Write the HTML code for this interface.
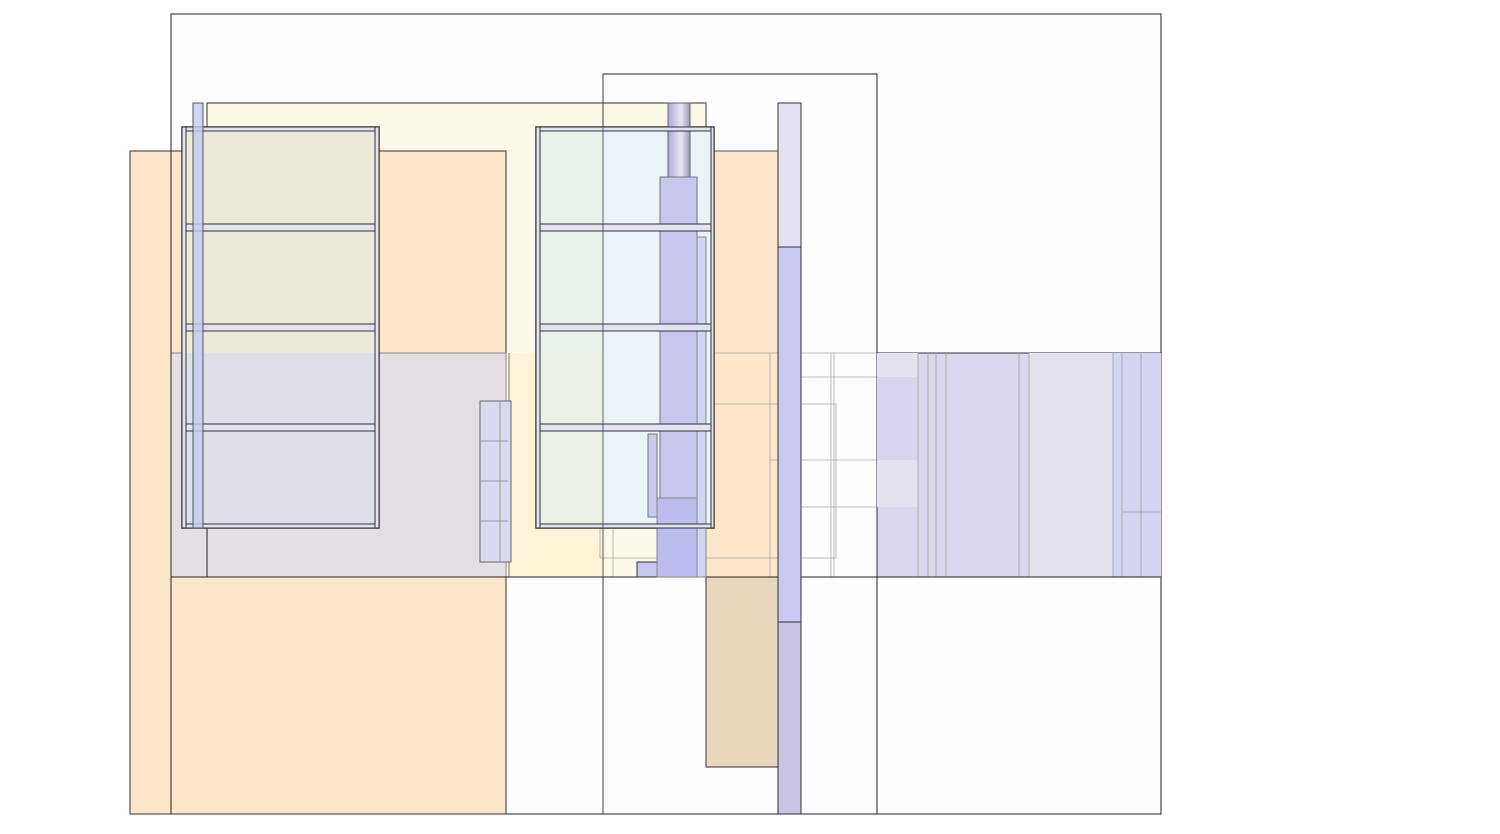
<!DOCTYPE html>
<html><head><style>body{margin:0;background:#fff}svg{display:block}</style></head><body>
<svg width="1500" height="834" viewBox="0 0 1500 834" xmlns="http://www.w3.org/2000/svg">
<defs><linearGradient id="pg" x1="0" x2="1"><stop offset="0" stop-color="#a9a9d6"/><stop offset=".6" stop-color="#e6e6f2"/><stop offset="1" stop-color="#9a9ab8"/></linearGradient></defs>
<rect width="1500" height="834" fill="#fff"/>
<rect x="171" y="14" width="990" height="800" fill="#fdfdfd" stroke="#222" stroke-width="1"/>
<!-- yellow pale -->
<rect x="207" y="103" width="499" height="474" fill="#fdf9e9" stroke="#333"/>
<rect x="603" y="74" width="274" height="740" fill="none" stroke="#222"/>
<!-- left orange -->
<rect x="130" y="151" width="376" height="663" fill="#fce6c9" stroke="#333"/>
<rect x="506" y="353" width="97" height="224" fill="#fdf3d6"/>
<rect x="171" y="353" width="335" height="224" fill="#e4dfe5" stroke="#888"/>
<line x1="171" y1="151" x2="171" y2="814" stroke="#222"/>
<line x1="207" y1="353" x2="207" y2="577" stroke="#222"/>
<line x1="509" y1="353" x2="509" y2="577" stroke="#777"/>
<!-- right orange -->
<rect x="706" y="151" width="72" height="426" fill="#fce6c9" stroke="#555"/>
<rect x="706" y="577" width="72" height="190" fill="#e8d7bd" stroke="#333"/>
<!-- mid light region lines -->
<rect x="603" y="353" width="274" height="224" fill="none" stroke="#aaa" stroke-width=".8"/>
<g stroke="#aaa" stroke-width=".8" fill="none">
<rect x="600" y="404" width="236" height="154"/>
<line x1="613" y1="353" x2="613" y2="577"/><line x1="671" y1="353" x2="671" y2="577"/><line x1="681" y1="353" x2="681" y2="577"/>
<line x1="770" y1="353" x2="770" y2="577"/><line x1="831" y1="353" x2="831" y2="577"/><line x1="834" y1="353" x2="834" y2="577"/>
<line x1="801" y1="377" x2="918" y2="377"/><line x1="770" y1="460" x2="918" y2="460"/><line x1="801" y1="507" x2="918" y2="507"/>
</g>
<line x1="603" y1="577" x2="877" y2="577" stroke="#222"/>
<line x1="171" y1="577" x2="603" y2="577" stroke="#222"/>
<!-- right band -->
<rect x="877" y="353" width="284" height="224" fill="#dad8ee" stroke="#333"/>
<rect x="877" y="377" width="41" height="83" fill="#d8d6ee"/>
<rect x="877" y="353" width="41" height="24" fill="#e4e2ef"/>
<rect x="877" y="460" width="41" height="47" fill="#e4e2ef"/>
<rect x="1029" y="353" width="84" height="224" fill="#e4e2ee"/>
<rect x="1113" y="353" width="48" height="224" fill="#d4d4f0"/>
<g stroke="#aaa" stroke-width="1"><line x1="918" y1="353" x2="918" y2="577"/><line x1="928" y1="353" x2="928" y2="577"/><line x1="936" y1="353" x2="936" y2="577"/><line x1="946" y1="353" x2="946" y2="577"/><line x1="1019" y1="353" x2="1019" y2="577"/><line x1="1029" y1="353" x2="1029" y2="577"/><line x1="1113" y1="353" x2="1113" y2="577"/><line x1="1122" y1="353" x2="1122" y2="577"/><line x1="1141" y1="353" x2="1141" y2="577"/><line x1="1122" y1="512" x2="1161" y2="512"/></g>
<line x1="877" y1="577" x2="1161" y2="577" stroke="#222"/>
<!-- vertical bar -->
<rect x="778" y="103" width="23" height="144" fill="#e4e2f2" stroke="#333"/>
<rect x="778" y="247" width="23" height="375" fill="#c8c8f0" stroke="#333"/>
<rect x="778" y="622" width="23" height="192" fill="#c9c4e4" stroke="#333"/>
<!-- left window -->
<rect x="182" y="127" width="197" height="401" fill="#e9ecef" fill-opacity=".6" stroke="#333" stroke-width="1.5"/>
<rect x="182" y="131" width="195" height="222" fill="#ece9db"/>
<rect x="182" y="353" width="195" height="173" fill="#dfdfea"/>
<g fill="#e2e2f2" stroke="#333"><rect x="182" y="224" width="193" height="7"/><rect x="182" y="324" width="193" height="7"/><rect x="182" y="424" width="193" height="7"/><rect x="182" y="127" width="197" height="4"/><rect x="182" y="524" width="197" height="4"/><rect x="375" y="127" width="4" height="401"/><rect x="182" y="127" width="4" height="401"/></g>
<rect x="193" y="103" width="10" height="425" fill="#c3cbef" fill-opacity=".8" stroke="#555"/>
<!-- right window -->
<rect x="536" y="127" width="178" height="401" fill="#eaf3f8" stroke="#333" stroke-width="1.5"/>
<rect x="540" y="131" width="63" height="393" fill="#e9f2ea"/>
<rect x="540" y="353" width="63" height="171" fill="#eaf0e4"/>
<!-- purple column and pipe -->
<rect x="668" y="103" width="22" height="74" fill="url(#pg)" stroke="#666"/>
<rect x="660" y="177" width="37" height="400" fill="#c6c6ef" stroke="#777"/>
<rect x="697" y="237" width="9" height="340" fill="#cdd6f2" stroke="#888"/>
<rect x="648" y="434" width="9" height="83" fill="#c9c9ef" stroke="#777"/>
<rect x="637" y="562" width="23" height="15" fill="#c6c6ef" stroke="#333"/>
<rect x="657" y="498" width="40" height="79" fill="#bcbcee" stroke="#888"/>
<g fill="#e2e2f2" stroke="#333"><rect x="540" y="224" width="171" height="7"/><rect x="540" y="324" width="171" height="7"/><rect x="540" y="424" width="171" height="7"/><rect x="536" y="127" width="178" height="4"/><rect x="536" y="524" width="178" height="4"/><rect x="536" y="127" width="4" height="401"/><rect x="711" y="127" width="3" height="401"/></g>
<line x1="603" y1="74" x2="603" y2="814" stroke="#444" stroke-width=".8"/>
<!-- small panel -->
<rect x="480" y="401" width="31" height="161" fill="#d9d9f0" stroke="#666"/>
<g stroke="#999"><line x1="480" y1="441" x2="508" y2="441"/><line x1="480" y1="481" x2="508" y2="481"/><line x1="480" y1="521" x2="508" y2="521"/><line x1="500" y1="401" x2="500" y2="562"/></g>
<line x1="506" y1="577" x2="506" y2="814" stroke="#333"/>
</svg>
</body></html>
